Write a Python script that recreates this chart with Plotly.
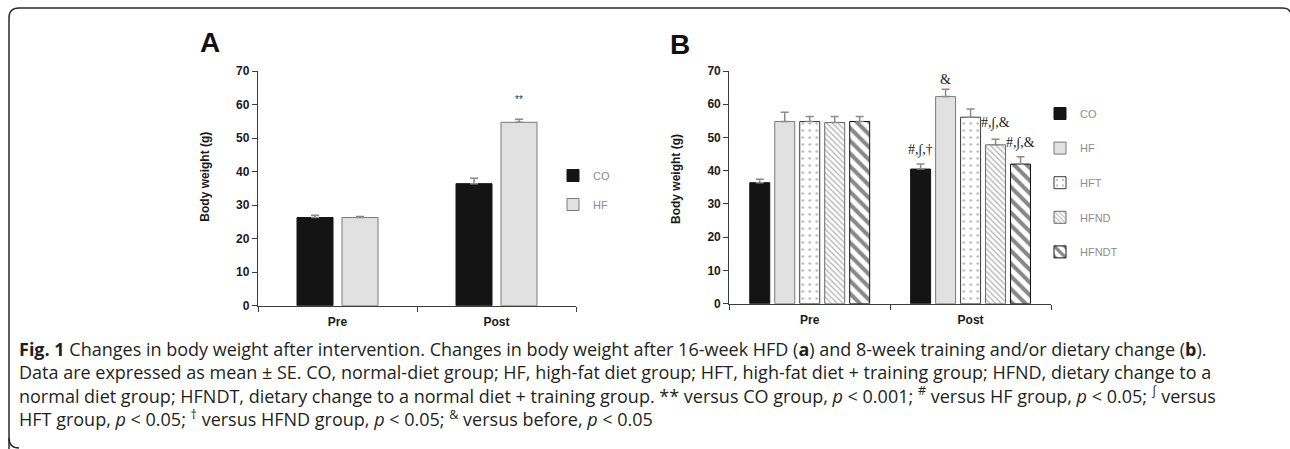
import plotly.graph_objects as go

W, H = 1290, 449

def px(x):
    return x / W

def py(y):
    return 1 - y / H

# ---------------- data ----------------
categories = ["Pre", "Post"]

a_groups = ["CO", "HF"]
a_values = {"CO": [26.3, 36.4], "HF": [26.3, 54.7]}
a_errors = {"CO": [0.7, 1.6], "HF": [0.3, 0.9]}

b_groups = ["CO", "HF", "HFT", "HFND", "HFNDT"]
b_values = {
    "CO": [36.4, 40.5],
    "HF": [54.8, 62.3],
    "HFT": [54.8, 56.1],
    "HFND": [54.5, 47.8],
    "HFNDT": [54.8, 42.0],
}
b_errors = {
    "CO": [1.0, 1.5],
    "HF": [2.8, 2.2],
    "HFT": [1.5, 2.5],
    "HFND": [1.8, 1.7],
    "HFNDT": [1.5, 2.2],
}

y_ticks = [0, 10, 20, 30, 40, 50, 60, 70]

# ---------------- styles ----------------
styles = {
    "CO": dict(color="#141414", line=dict(color="#141414", width=1)),
    "HF": dict(color="#e1e1e1", line=dict(color="#7a7a7a", width=1)),
    "HFT": dict(color="#ffffff", line=dict(color="#3a3a3a", width=1),
                pattern=dict(shape=".", fgcolor="#707070", bgcolor="#ffffff", size=7, solidity=0.12)),
    "HFND": dict(color="#ffffff", line=dict(color="#6a6a6a", width=1),
                 pattern=dict(shape="\\", fgcolor="#6e6e6e", bgcolor="#ffffff", size=4, solidity=0.35)),
    "HFNDT": dict(color="#ffffff", line=dict(color="#111111", width=1),
                  pattern=dict(shape="\\", fgcolor="#111111", bgcolor="#ffffff", size=9, solidity=0.45)),
}

err_style = dict(type="data", symmetric=False, color="#8a8a8a", thickness=1.5, width=4)

fig = go.Figure()

# Panel A: bar width 36px over 159px category, slot 45px
a_width = 36 / 159
a_slot = 45 / 159
for i, g in enumerate(a_groups):
    off = (i - 0.5) * a_slot - a_width / 2
    fig.add_trace(go.Bar(
        x=categories, y=a_values[g], name=g, width=a_width, offset=off,
        marker=styles[g], xaxis="x", yaxis="y", legend="legend", legendgroup="a" + g,
        error_y=dict(array=a_errors[g], arrayminus=[0, 0], **err_style),
    ))

# Panel B: bar width 20px, slot 25px over 161px category
b_width = 20 / 161
b_slot = 25 / 161
for i, g in enumerate(b_groups):
    off = (i - 2) * b_slot - b_width / 2
    fig.add_trace(go.Bar(
        x=categories, y=b_values[g], name=g, width=b_width, offset=off,
        marker=styles[g], xaxis="x2", yaxis="y2", legend="legend2", legendgroup="b" + g,
        error_y=dict(array=b_errors[g], arrayminus=[0, 0], **err_style),
    ))

axis_font = dict(family="Liberation Sans, Arial, sans-serif", size=12, color="#1a1a1a", weight="bold")
xcommon = dict(type="category", showline=True, linecolor="#3c3c3c", linewidth=1.3,
               ticks="outside", tickson="boundaries", ticklen=5, tickcolor="#3c3c3c",
               tickwidth=1.3, tickfont=axis_font, showgrid=False, zeroline=False,
               range=[-0.5, 1.5], fixedrange=True, automargin=False, ticklabelstandoff=5)
ycommon = dict(range=[0, 70], tickvals=y_ticks, showline=True, linecolor="#3c3c3c", linewidth=1.3,
               ticks="outside", ticklen=5, tickcolor="#3c3c3c", tickwidth=1.3,
               tickfont=axis_font, showgrid=False, zeroline=False, fixedrange=True, automargin=False)

leg_font = dict(family="Liberation Sans, Arial, sans-serif", size=11, color="#8c8c8c")

fig.update_layout(
    width=W, height=H, margin=dict(l=0, r=0, t=0, b=0),
    paper_bgcolor="white", plot_bgcolor="rgba(0,0,0,0)",
    barmode="overlay",
    xaxis=dict(domain=[px(258), px(576)], anchor="y", **xcommon),
    yaxis=dict(domain=[py(305.7), py(71)], anchor="x", **ycommon),
    xaxis2=dict(domain=[px(729.3), px(1051)], anchor="y2", **xcommon),
    yaxis2=dict(domain=[py(303.7), py(71)], anchor="x2", **ycommon),
    legend=dict(x=px(553), y=py(161), xanchor="left", yanchor="top", tracegroupgap=10,
                font=leg_font, bgcolor="rgba(0,0,0,0)"),
    legend2=dict(x=px(1040), y=py(99), xanchor="left", yanchor="top", tracegroupgap=15.6,
                 font=leg_font, bgcolor="rgba(0,0,0,0)"),
    showlegend=True,
)

anns = []
letter_font = dict(family="Liberation Sans, Arial, sans-serif", size=28, color="#111")
anns.append(dict(text="<b>A</b>", x=px(210), y=py(42), xref="paper", yref="paper", showarrow=False,
                 xanchor="center", yanchor="middle", font=letter_font))
anns.append(dict(text="<b>B</b>", x=px(680), y=py(44), xref="paper", yref="paper", showarrow=False,
                 xanchor="center", yanchor="middle", font=letter_font))
# y titles
for xx, yy in [(205, 176.7), (676, 179)]:
    anns.append(dict(text="<b>Body weight (g)</b>", x=px(xx), y=py(yy), xref="paper", yref="paper",
                     showarrow=False, textangle=-90, xanchor="center", yanchor="middle",
                     font=dict(family="Liberation Sans, Arial, sans-serif", size=12, color="#1a1a1a")))

# significance marks
sig_font = dict(family="Liberation Serif, Times New Roman, serif", size=14, color="#222")
anns.append(dict(text="**", x=1 + (1 - 0.5) * a_slot, y=61.6, xref="x", yref="y", showarrow=False,
                 font=dict(family="Liberation Sans, Arial, sans-serif", size=10, color="#333")))
anns.append(dict(text="#,∫,†", x=1 + (0 - 2) * b_slot, y=46.2, xref="x2", yref="y2", showarrow=False, font=sig_font))
anns.append(dict(text="&amp;", x=1 + (1 - 2) * b_slot, y=67.5, xref="x2", yref="y2", showarrow=False, font=sig_font))
anns.append(dict(text="#,∫,&amp;", x=1 + (3 - 2) * b_slot, y=54.3, xref="x2", yref="y2", showarrow=False, font=sig_font))
anns.append(dict(text="#,∫,&amp;", x=1 + (4 - 2) * b_slot, y=48.3, xref="x2", yref="y2", showarrow=False, font=sig_font))

# caption (one multi-line text block)
caption_lines = [
    "<b>Fig. 1</b> Changes in body weight after intervention. Changes in body weight after 16-week HFD (<b>a</b>) and 8-week training and/or dietary change (<b>b</b>).",
    "Data are expressed as mean ± SE. CO, normal-diet group; HF, high-fat diet group; HFT, high-fat diet + training group; HFND, dietary change to a",
    "normal diet group; HFNDT, dietary change to a normal diet + training group. ** versus CO group, <i>p</i> &lt; 0.001; <sup>#</sup> versus HF group, <i>p</i> &lt; 0.05; <sup>∫</sup> versus",
    "HFT group, <i>p</i> &lt; 0.05; <sup>†</sup> versus HFND group, <i>p</i> &lt; 0.05; <sup>&amp;</sup> versus before, <i>p</i> &lt; 0.05",
]
anns.append(dict(text="<br>".join(caption_lines), x=px(17), y=py(384.3), xref="paper", yref="paper",
                 xanchor="left", yanchor="middle", align="left", showarrow=False,
                 font=dict(family="Open Sans, Noto Sans, sans-serif", size=18, color="#231f20")))

fig.update_layout(annotations=anns)

# rounded frame
def P(x, y):
    return f"{px(x):.5f},{py(y):.5f}"

frame = ("M " + P(9, 449) + " L " + P(9, 18) + " Q " + P(9, 8) + " " + P(19, 8) +
         " L " + P(1282, 8) + " Q " + P(1289, 8) + " " + P(1290, 12))
bottom = "M " + P(9, 438) + " Q " + P(9, 448) + " " + P(19, 448)
fig.update_layout(shapes=[
    dict(type="path", path=frame, xref="paper", yref="paper", line=dict(color="#2a2a2a", width=1.5)),
    dict(type="path", path=bottom, xref="paper", yref="paper", line=dict(color="#2a2a2a", width=1.5)),
])

fig.write_html("out.html", config={"displayModeBar": False},
               post_script="document.body.style.margin='0px';document.body.style.overflow='hidden';")
